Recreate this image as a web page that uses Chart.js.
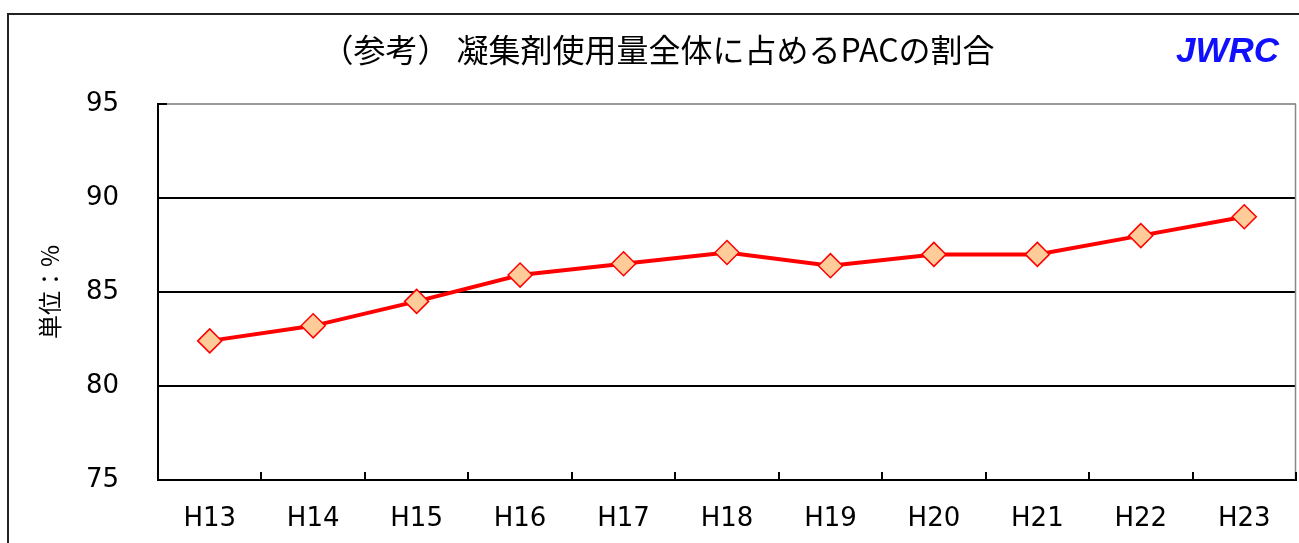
<!DOCTYPE html>
<html><head><meta charset="utf-8">
<script src="https://cdn.jsdelivr.net/npm/chart.js@4"></script>
<style>html,body{margin:0;padding:0;background:#fff;overflow:hidden}#wrap{width:1299px;height:543px;position:relative}</style>
</head><body><div id="wrap"><canvas id="c" width="1299" height="543"></canvas></div>
<script>
const categories = ['H13','H14','H15','H16','H17','H18','H19','H20','H21','H22','H23'];
const pacShare = [82.4, 83.2, 84.5, 85.9, 86.5, 87.1, 86.4, 87.0, 87.0, 88.0, 89.0];
const yTicks = [75, 80, 85, 90, 95];
const chartTitle = '（参考） 凝集剤使用量全体に占めるPACの割合';
const yAxisTitle = '単位：%';
const brandText = 'JWRC';

const framePlugin = {
  id: 'frame',
  beforeDraw(chart) {
    const ctx = chart.ctx;
    ctx.save();
    ctx.fillStyle = '#fff';
    ctx.fillRect(0, 0, chart.width, chart.height);
    ctx.strokeStyle = '#222';
    ctx.lineWidth = 2;
    ctx.strokeRect(8, 14, chart.width + 20, chart.height + 20);
    ctx.restore();
  },
  afterDraw(chart) {
    const ctx = chart.ctx;
    const a = chart.chartArea;
    const xs = chart.scales.x, ys = chart.scales.y;
    ctx.save();
    ctx.strokeStyle = '#888';
    ctx.lineWidth = 1.5;
    ctx.beginPath();
    ctx.moveTo(a.right - 0.5, a.top);
    ctx.lineTo(a.right - 0.5, a.bottom);
    ctx.stroke();
    ctx.strokeStyle = '#000';
    ctx.lineWidth = 2;
    ctx.beginPath();
    const half = (xs.getPixelForValue(1) - xs.getPixelForValue(0)) / 2;
    for (let i = 0; i < categories.length; i++) {
      const p = xs.getPixelForValue(i) + half;
      ctx.moveTo(Math.round(p), a.bottom);
      ctx.lineTo(Math.round(p), a.bottom - 8);
    }
    yTicks.forEach(v => {
      const py = ys.getPixelForValue(v);
      ctx.moveTo(a.left, py);
      ctx.lineTo(a.left + 9, py);
    });
    ctx.stroke();
    ctx.fillStyle = '#1010FF';
    ctx.font = 'italic bold 35px "Liberation Sans", Arial, sans-serif';
    ctx.textAlign = 'right';
    ctx.textBaseline = 'alphabetic';
    ctx.fillText(brandText, 1279, 62);
    ctx.restore();
  }
};

new Chart(document.getElementById('c'), {
  type: 'line',
  data: {
    labels: categories,
    datasets: [{
      data: pacShare,
      borderColor: '#FF0000',
      borderWidth: 4,
      backgroundColor: '#FFCC99',
      pointStyle: 'rectRot',
      pointRadius: 12,
      pointHoverRadius: 12,
      pointBorderWidth: 1.5,
      pointBorderColor: '#FF0000',
      pointBackgroundColor: '#FFCC99',
      tension: 0,
      fill: false,
      clip: 20
    }]
  },
  options: {
    responsive: false,
    animation: false,
    events: [],
    layout: { autoPadding: false, padding: { left: 20, right: 3, top: 0, bottom: 0 } },
    plugins: {
      legend: { display: false },
      tooltip: { enabled: false },
      title: {
        display: true,
        text: chartTitle,
        color: '#000',
        font: { family: '"Noto Sans CJK JP", sans-serif', size: 32, weight: 'normal', lineHeight: 1.2 },
        padding: { top: 30.3, bottom: 35.3 }
      }
    },
    scales: {
      x: {
        offset: true,
        grid: { display: false, drawTicks: false },
        border: { display: true, color: '#000', width: 2 },
        ticks: {
          color: '#000',
          padding: 24,
          maxRotation: 0,
          autoSkip: false,
          font: { family: '"DejaVu Sans", sans-serif', size: 26, lineHeight: 1.2 }
        },
        afterFit(s) { s.height = 63; s.paddingLeft = 0; s.paddingRight = 0; }
      },
      y: {
        min: 75,
        max: 95,
        afterBuildTicks(s) { s.ticks = yTicks.map(v => ({ value: v })); },
        grid: {
          drawTicks: false,
          lineWidth: 2,
          color: c => (c.tick && c.tick.value === 95) ? '#999' : '#000'
        },
        border: { display: true, color: '#000', width: 2 },
        ticks: {
          color: '#000',
          padding: 39,
          font: { family: '"DejaVu Sans", sans-serif', size: 26, lineHeight: 1.2 }
        },
        title: {
          display: true,
          text: yAxisTitle,
          color: '#000',
          font: { family: '"Noto Sans CJK JP", sans-serif', size: 24, lineHeight: 1.2 },
          padding: { top: 15.1, bottom: 0 }
        },
        afterFit(s) { s.width = 138; }
      }
    }
  },
  plugins: [framePlugin]
});
</script>
</body></html>
